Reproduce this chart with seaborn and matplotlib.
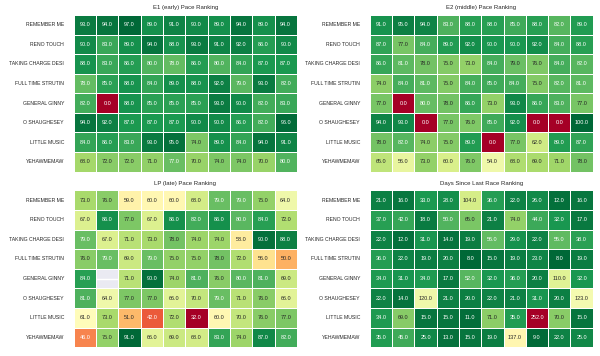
import numpy as np
import pandas as pd
import matplotlib
matplotlib.use("Agg")
import matplotlib.pyplot as plt
import seaborn as sns

# horse names (rows) and race columns
horses = ["REMEMBER ME", "RENO TOUCH", "TAKING CHARGE DESI", "FULL TIME STRUTIN",
          "GENERAL GINNY", "O SHAUGHESEY", "LITTLE MUSIC", "YEHAWMEMAW"]
races = list(range(10))

e1_pace = [
    [93, 94, 97, 89, 91, 90, 89, 94, 89, 94],
    [90, 83, 89, 94, 88, 93, 91, 92, 86, 90],
    [88, 83, 86, 80, 78, 86, 80, 84, 87, 87],
    [78, 85, 88, 84, 89, 88, 92, 79, 93, 82],
    [82, 0, 88, 85, 85, 85, 93, 90, 82, 83],
    [94, 92, 87, 87, 87, 90, 90, 86, 82, 96],
    [84, 86, 83, 93, 95, 74, 89, 84, 94, 91],
    [68, 72, 72, 71, 77, 70, 74, 74, 70, 80],
]

e2_pace = [
    [91, 95, 94, 83, 88, 88, 85, 88, 82, 89],
    [87, 77, 84, 89, 92, 90, 90, 92, 84, 88],
    [86, 81, 78, 75, 73, 84, 79, 76, 84, 82],
    [74, 84, 81, 75, 84, 85, 84, 75, 82, 81],
    [77, 0, 80, 78, 86, 73, 93, 86, 83, 77],
    [94, 93, 0, 77, 76, 85, 92, 0, 0, 100],
    [78, 82, 74, 75, 89, 0, 77, 62, 89, 87],
    [65, 56, 73, 60, 76, 54, 68, 69, 71, 78],
]

lp_pace = [
    [73, 76, 59, 60, 60, 68, 79, 79, 75, 64],
    [67, 86, 77, 67, 86, 82, 86, 80, 84, 72],
    [79, 67, 71, 73, 78, 74, 74, 58, 90, 88],
    [76, 79, 69, 79, 75, 75, 78, 72, 56, 50],
    [84, np.nan, 71, 90, 74, 81, 76, 80, 81, 69],
    [81, 64, 77, 77, 66, 70, 79, 71, 76, 66],
    [61, 73, 51, 42, 72, 32, 60, 70, 76, 77],
    [46, 75, 91, 66, 69, 68, 83, 74, 87, 82],
]

days_since = [
    [21, 16, 33, 28, 104, 36, 22, 26, 12, 16],
    [37, 42, 18, 50, 65, 21, 74, 44, 32, 17],
    [22, 12, 31, 14, 19, 56, 29, 22, 55, 38],
    [36, 22, 19, 20, 8, 15, 19, 23, 8, 19],
    [34, 31, 34, 17, 52, 32, 36, 20, 110, 32],
    [22, 14, 120, 21, 20, 22, 21, 31, 20, 123],
    [34, 69, 15, 15, 11, 71, 35, 252, 70, 15],
    [35, 45, 25, 13, 15, 19, 137, 9, 22, 25],
]

titles = ["E1 (early) Pace Ranking", "E2 (middle) Pace Ranking",
          "LP (late) Pace Ranking", "Days Since Last Race Ranking"]
tables = [e1_pace, e2_pace, lp_pace, days_since]
cmaps = ["RdYlGn", "RdYlGn", "RdYlGn", "RdYlGn_r"]

sns.set_theme(style="darkgrid")
plt.rcParams['font.family'] = ['Liberation Sans', 'DejaVu Sans']

fig, axes = plt.subplots(2, 2, figsize=(6, 3.56), dpi=100)
fig.patch.set_facecolor("white")
plt.subplots_adjust(left=0.123, right=0.988, top=0.958, bottom=0.025,
                    wspace=0.327, hspace=0.12)

for ax, title, table, cmap in zip(axes.flat, titles, tables, cmaps):
    df = pd.DataFrame(table, index=horses, columns=races)
    sns.heatmap(df, ax=ax, cmap=cmap, annot=True, fmt=".1f", cbar=False,
                linewidths=0.5, linecolor="white", xticklabels=False,
                annot_kws={"fontsize": 4})
    ax.set_title(title, fontsize=4.3, pad=4)
    ax.set_ylabel("")
    ax.tick_params(axis="y", length=0, pad=7, labelsize=3.7, rotation=0)

plt.savefig("out.png", dpi=100, facecolor="white")
